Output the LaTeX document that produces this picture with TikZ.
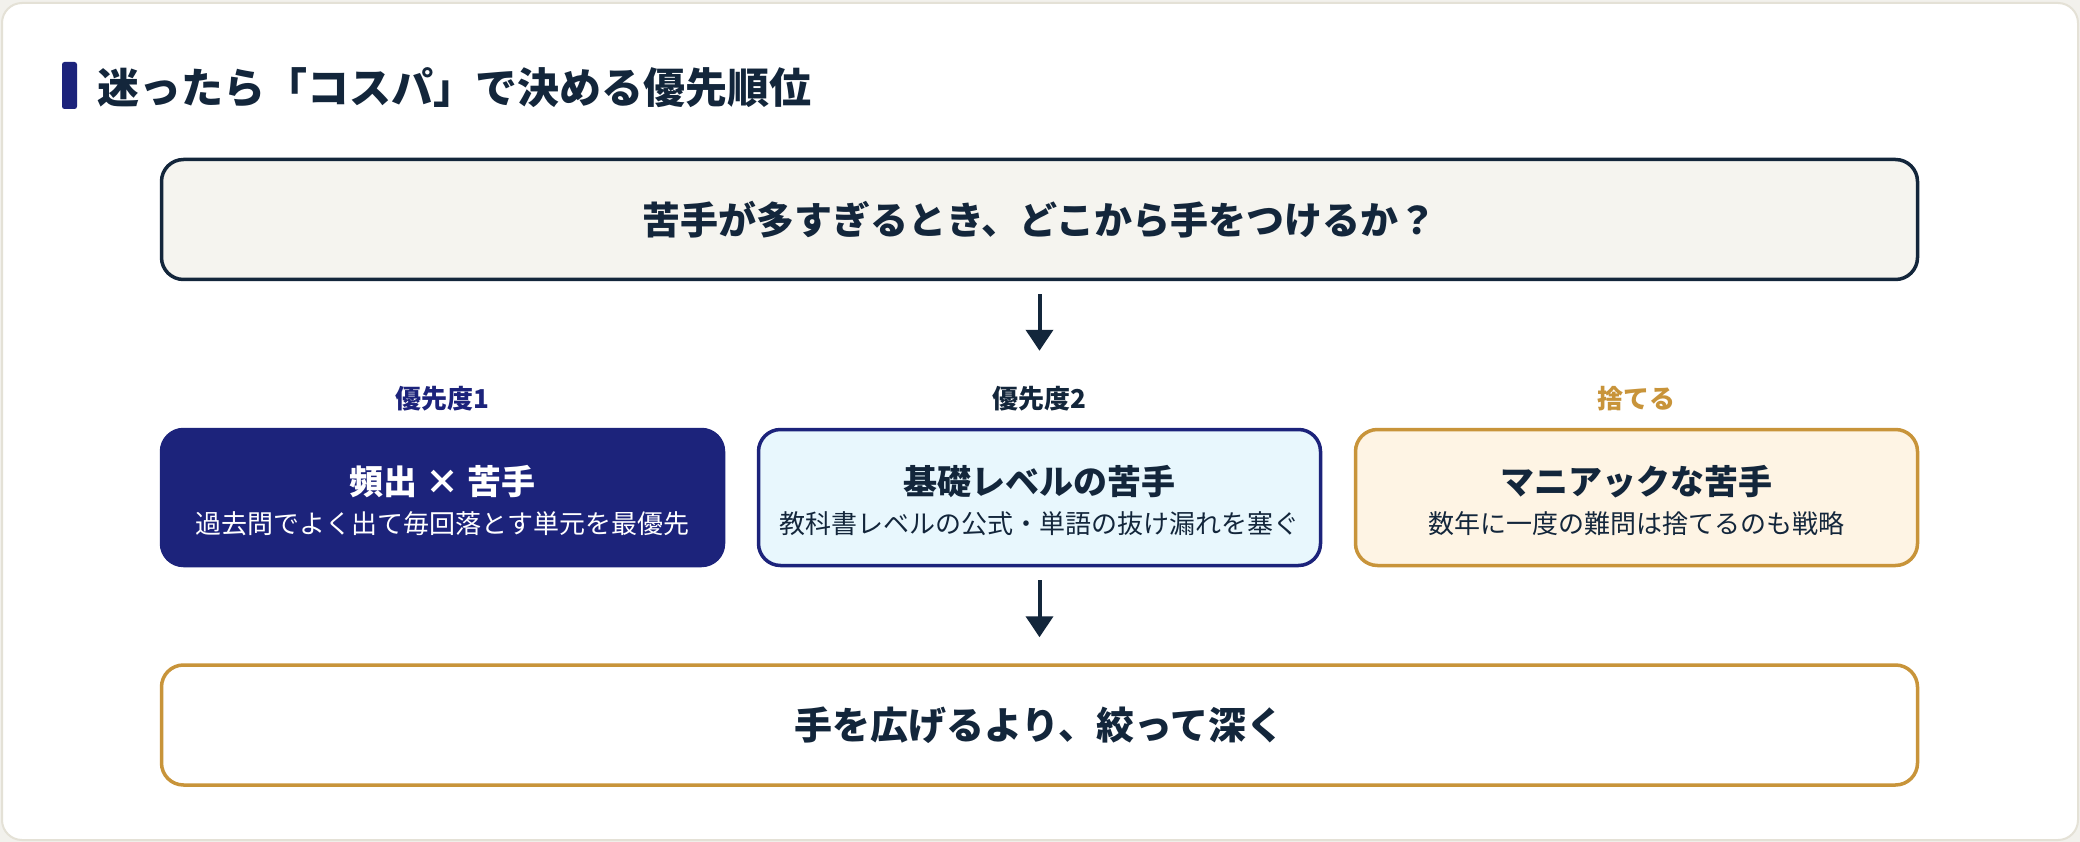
\documentclass[tikz,border=0pt]{standalone}
\usepackage{fontspec}
\setmainfont{Noto Sans CJK JP}
\usetikzlibrary{arrows.meta}
\definecolor{navy}{HTML}{13263B}
\definecolor{indigo}{HTML}{1C237B}
\definecolor{gold}{HTML}{C8943A}
\definecolor{cyanfill}{HTML}{E8F7FD}
\definecolor{creamfill}{HTML}{FEF4E4}
\definecolor{topfill}{HTML}{F5F4EF}
\definecolor{cardline}{HTML}{E4E1D6}
\definecolor{outbg}{HTML}{F2F1EC}
\tikzset{
  fbox/.style={rounded corners=22pt, line width=3.5pt, inner sep=0pt},
  rowbox/.style={fbox, minimum width=562pt, minimum height=136pt},
  widebox/.style={fbox, minimum width=1756pt, minimum height=120pt},
  bigtext/.style={font=\bfseries\fontsize{38}{38}\selectfont, text=navy, inner sep=0pt},
  headtext/.style={font=\bfseries\fontsize{34}{34}\selectfont, inner sep=0pt},
  subtext/.style={font=\fontsize{26}{26}\selectfont, inner sep=0pt},
  tagtext/.style={font=\bfseries\fontsize{26}{26}\selectfont, inner sep=0pt},
  arr/.style={draw=navy, line width=4pt, -{Triangle[length=21pt,width=27pt]}}
}
\begin{document}
\begin{tikzpicture}[x=1pt,y=-1pt]
\useasboundingbox (0,0) rectangle (2080,842);
\fill[outbg] (0,0) rectangle (2080,842);
\draw[cardline, fill=white, line width=2pt, rounded corners=20pt] (2,3) rectangle (2078,840);
% title
\fill[indigo, rounded corners=2.5pt] (62,62) rectangle (77,109);
\node[anchor=west, font=\bfseries\fontsize{42}{42}\selectfont, text=navy, inner sep=0pt] (title) at (97,88) {迷ったら「コスパ」で決める優先順位};
% question
\node[widebox, draw=navy, fill=topfill] (q) at (1039.5,219.5) {};
\node[bigtext] (qt) at (q.center) {苦手が多すぎるとき、どこから手をつけるか？};
% tags
\node[tagtext, text=indigo] (tag1) at (442.5,399) {優先度1};
\node[tagtext, text=navy] (tag2) at (1039.5,399) {優先度2};
\node[tagtext, text=gold] (tag3) at (1636.5,399) {捨てる};
% row boxes
\node[rowbox, draw=indigo, fill=indigo] (b1) at (442.5,497.5) {};
\node[rowbox, draw=indigo, fill=cyanfill] (b2) at (1039.5,497.5) {};
\node[rowbox, draw=gold, fill=creamfill] (b3) at (1636.5,497.5) {};
\node[headtext, text=white] (b1h) at ([yshift=15.5pt]b1.center) {頻出 × 苦手};
\node[subtext, text=white] (b1s) at ([yshift=-26.5pt]b1.center) {過去問でよく出て毎回落とす単元を最優先};
\node[headtext, text=navy] (b2h) at ([yshift=15.5pt]b2.center) {基礎レベルの苦手};
\node[subtext, text=navy] (b2s) at ([yshift=-26.5pt]b2.center) {教科書レベルの公式・単語の抜け漏れを塞ぐ};
\node[headtext, text=navy] (b3h) at ([yshift=15.5pt]b3.center) {マニアックな苦手};
\node[subtext, text=navy] (b3s) at ([yshift=-26.5pt]b3.center) {数年に一度の難問は捨てるのも戦略};
% conclusion
\node[widebox, draw=gold, fill=white] (c) at (1039.5,725) {};
\node[bigtext] (ct) at (c.center) {手を広げるより、絞って深く};
% arrows
\draw[arr, shorten <=13pt, shorten >=77pt] (q.south) -- (b2.north);
\draw[arr, shorten <=13pt, shorten >=26pt] (b2.south) -- (c.north);
\end{tikzpicture}
\end{document}
